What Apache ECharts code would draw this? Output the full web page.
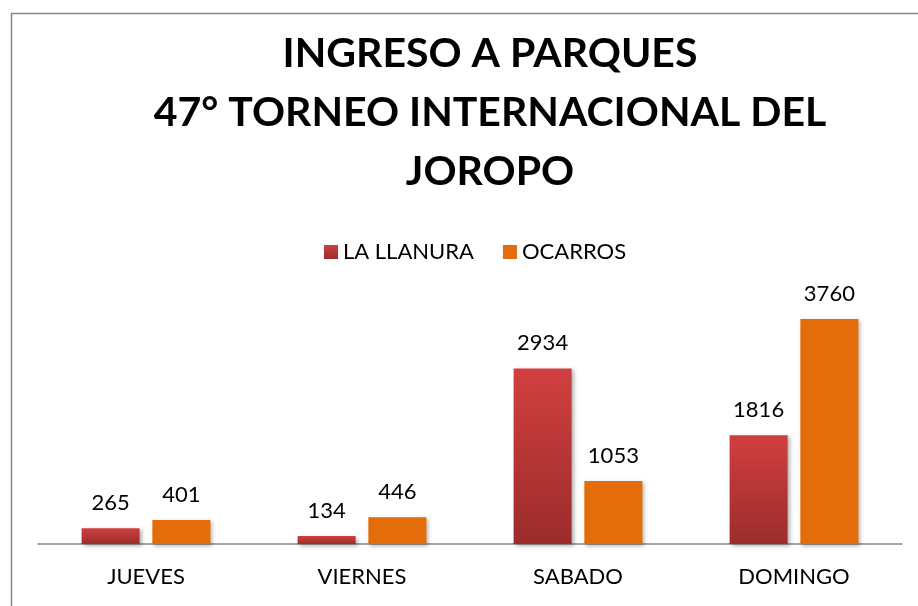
<!DOCTYPE html>
<html>
<head>
<meta charset="utf-8">
<script src="https://cdn.jsdelivr.net/npm/echarts@6/dist/echarts.min.js"></script>
<style>
  html, body { margin: 0; padding: 0; background: #fff; }
  #chart { width: 918px; height: 606px; }
</style>
</head>
<body>
<div id="chart"></div>
<script>
// datos del grafico
var dias = ["JUEVES", "VIERNES", "SABADO", "DOMINGO"];
var laLlanura = [265, 134, 2934, 1816];
var ocarros = [401, 446, 1053, 3760];

var myChart = echarts.init(document.getElementById("chart"));

var fuente = "Lato";

var option = {
  backgroundColor: "#fff",
  animation: false,
  // marco del area del grafico
  graphic: [{
    type: "rect",
    left: 9,
    top: 11,
    shape: { width: 1000, height: 700 },
    style: { fill: "none", stroke: "#868686", lineWidth: 1.5 },
    silent: true
  }],
  title: {
    text: "INGRESO A PARQUES\n47° TORNEO INTERNACIONAL DEL\nJOROPO",
    left: 490,
    top: 24,
    textAlign: "center",
    padding: 0,
    textStyle: {
      fontFamily: fuente,
      fontWeight: "bold",
      fontSize: 41,
      lineHeight: 59,
      color: "#000"
    }
  },
  legend: {
    data: [
      { name: "LA LLANURA", icon: "rect" },
      { name: "OCARROS", icon: "rect" }
    ],
    left: 319,
    top: 236,
    itemWidth: 14,
    itemHeight: 14,
    itemGap: 29,
    itemStyle: { shadowBlur: 0, shadowOffsetX: 0, shadowOffsetY: 0 },
    textStyle: { fontFamily: fuente, fontSize: 22, color: "#000" }
  },
  grid: {
    left: 38,
    right: 16,
    top: 304.6,
    bottom: 62
  },
  xAxis: {
    type: "category",
    data: dias,
    axisLine: { lineStyle: { color: "#868686", width: 1.5 } },
    axisTick: { show: false },
    axisLabel: {
      margin: 22,
      fontFamily: fuente,
      fontSize: 22,
      color: "#000"
    }
  },
  yAxis: {
    type: "value",
    min: 0,
    max: 4000,
    show: false,
    splitLine: { show: false }
  },
  series: [
    {
      name: "LA LLANURA",
      type: "bar",
      data: laLlanura,
      barWidth: 58,
      barGap: "22%",
      itemStyle: {
        color: new echarts.graphic.LinearGradient(0, 0, 0, 1, [
          { offset: 0, color: "#D13F3F" },
          { offset: 1, color: "#9C2C2C" }
        ]),
        shadowBlur: 4,
        shadowOffsetX: 2,
        shadowOffsetY: 2,
        shadowColor: "rgba(0,0,0,0.3)"
      },
      label: {
        show: true,
        position: "top",
        distance: 14,
        fontFamily: fuente,
        fontSize: 22,
        color: "#000"
      }
    },
    {
      name: "OCARROS",
      type: "bar",
      data: ocarros,
      barWidth: 58,
      itemStyle: {
        color: "#E46C0A",
        shadowBlur: 4,
        shadowOffsetX: 2,
        shadowOffsetY: 2,
        shadowColor: "rgba(0,0,0,0.3)"
      },
      label: {
        show: true,
        position: "top",
        distance: 14,
        fontFamily: fuente,
        fontSize: 22,
        color: "#000"
      }
    }
  ]
};

myChart.setOption(option);
</script>
</body>
</html>
